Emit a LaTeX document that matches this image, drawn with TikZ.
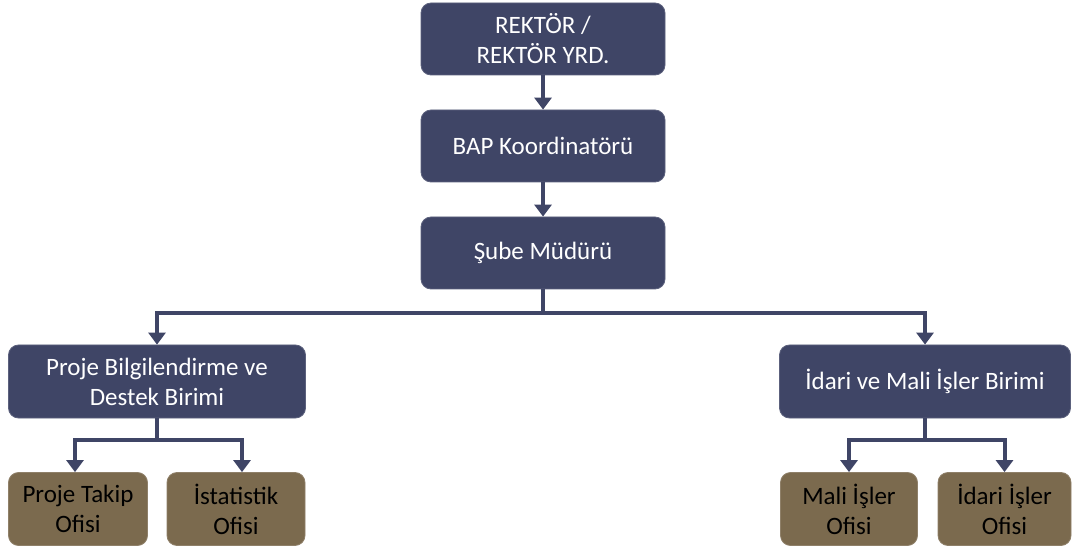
\documentclass[tikz,border=0pt]{standalone}
\usepackage{fontspec}
\setmainfont{Carlito}
\usetikzlibrary{arrows.meta,positioning,calc}
\definecolor{navy}{HTML}{3F4566}
\definecolor{olive}{HTML}{7B6A4E}
\tikzset{
  navybox/.style={fill=navy, draw=navy!85!white, line width=0.8pt, rounded corners=10pt, text=white, align=center, inner sep=0pt, font=\fontsize{25}{30}\selectfont},
  brownbox/.style={fill=olive, draw=olive!85!white, line width=0.8pt, rounded corners=10pt, text=black, align=center, inner sep=0pt, font=\fontsize{25}{30}\selectfont},
  conn/.style={draw=navy, line width=4pt, -{Triangle[width=17pt,length=12pt]}},
}
\begin{document}
\begin{tikzpicture}[x=1pt,y=-1pt]
\useasboundingbox (0,0) rectangle (1072,548);
\node[navybox, minimum width=244pt, minimum height=72pt] (rek) at (543,39) {REKTÖR /\\REKTÖR YRD.};
\node[navybox, minimum width=244pt, minimum height=72pt] (bap) at (543,146) {BAP Koordinatörü};
\node[navybox, minimum width=244pt, minimum height=72pt] (sube) at (543,253) {Şube Müdürü};
\node[navybox, minimum width=297pt, minimum height=73pt] (pbd) at (157,381.5) {Proje Bilgilendirme ve\\Destek Birimi};
\node[navybox, minimum width=291pt, minimum height=73pt] (ima) at (925,381.5) {İdari ve Mali İşler Birimi};
\node[brownbox, minimum width=139pt, minimum height=73pt] (pto) at (78,509) {Proje Takip\\Ofisi};
\node[brownbox, minimum width=138pt, minimum height=73pt] (ist) at (236,509) {İstatistik\\Ofisi};
\node[brownbox, minimum width=137pt, minimum height=73pt] (mio) at (849,509) {Mali İşler\\Ofisi};
\node[brownbox, minimum width=133pt, minimum height=73pt] (iio) at (1004.5,509) {İdari İşler\\Ofisi};
\draw[conn] (rek) -- (bap);
\draw[conn] (bap) -- (sube);
\draw[conn] (sube.south) -- ++(0,24) -| (pbd.north);
\draw[conn] (sube.south) -- ++(0,24) -| (ima.north);
\draw[conn] (pbd.south) -- ++(0,22) -| ($(pto.north)+(-3,0)$);
\draw[conn] (pbd.south) -- ++(0,22) -| ($(ist.north)+(6,0)$);
\draw[conn] (ima.south) -- ++(0,22) -| (mio.north);
\draw[conn] (ima.south) -- ++(0,22) -| (iio.north);
\end{tikzpicture}
\end{document}
